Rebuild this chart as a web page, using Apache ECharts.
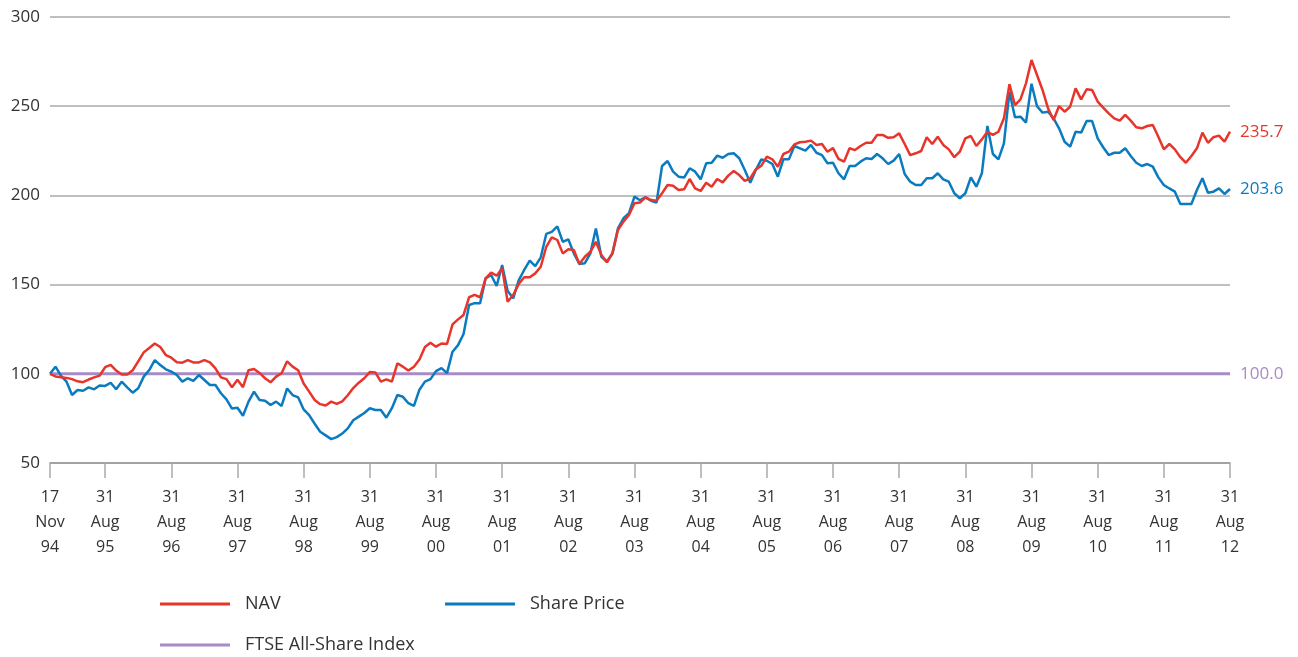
<!DOCTYPE html>
<html>
<head>
<meta charset="utf-8">
<script src="https://cdn.jsdelivr.net/npm/echarts@6/dist/echarts.min.js"></script>
<style>
  html, body { margin: 0; padding: 0; background: #fff; }
  #main { width: 1298px; height: 657px; }
</style>
</head>
<body>
<div id="main"></div>
<script>
// monthly points, 17 Nov 94 .. 31 Aug 12 (Aug points at index 10, 22, 34 ...)
var tickLabels = ['17\nNov\n94', '31\nAug\n95', '31\nAug\n96', '31\nAug\n97', '31\nAug\n98',
  '31\nAug\n99', '31\nAug\n00', '31\nAug\n01', '31\nAug\n02', '31\nAug\n03', '31\nAug\n04',
  '31\nAug\n05', '31\nAug\n06', '31\nAug\n07', '31\nAug\n08', '31\nAug\n09', '31\nAug\n10',
  '31\nAug\n11', '31\nAug\n12'];

var navValues = [
  100, 98.5, 98, 97.7, 97, 95.8, 95.3, 96.8, 98, 99,
  103.7, 105, 101.8, 99.6, 99.6, 102, 107, 112, 114.5, 117,
  115, 110.5, 109, 106.5, 106.2, 107.7, 106.4, 106.4, 107.7, 106.4,
  103, 98, 97, 92.5, 96.6, 92.5, 102, 102.7, 100.5, 97.5,
  95.2, 98.4, 100.3, 107, 104, 102, 94.6, 90, 85.3, 83,
  82.2, 84.4, 83.1, 84.5, 88, 92, 95, 97.5, 101, 100.8,
  95.6, 96.9, 95.6, 105.9, 104, 101.8, 104, 108, 115, 117.4,
  115.2, 117, 116.7, 127.7, 130.5, 133, 142.9, 144.2, 142.9, 153.5,
  156.7, 155, 159.1, 140.4, 144.2, 150.3, 154.1, 154.1, 156.3, 160,
  171.2, 176.5, 175, 167.5, 169.8, 169.4, 161.6, 165.6, 168.4, 174,
  166.6, 162.5, 167.5, 180.6, 185.3, 189, 195.6, 196, 198.9, 197.4,
  197, 201.2, 205.8, 205.4, 203, 203.4, 209.2, 204, 202.5, 207.1,
  204.9, 209.2, 207.3, 211.1, 213.7, 211.4, 208.1, 209.6, 214.6, 216.6,
  221.7, 220.2, 216.1, 223.2, 224.5, 228.6, 229.8, 230.1, 230.7, 228.3,
  228.8, 224.5, 226.5, 220.5, 218.9, 226.4, 225.4, 227.7, 229.5, 229.5,
  233.9, 233.9, 232.3, 232.6, 234.8, 228.8, 222.6, 223.6, 224.9, 232.6,
  228.8, 232.9, 228.3, 225.8, 221.4, 224.5, 232, 233.3, 227.7, 231.4,
  235.7, 233.9, 235.7, 243.2, 262.4, 250.6, 253.8, 262.8, 275.9, 267.5,
  259.1, 248.8, 242.3, 250.1, 246.9, 249.7, 260, 253.8, 259.5, 259.1,
  252.6, 249.2, 246, 243.2, 241.9, 245.1, 241.9, 238.2, 237.6, 238.9,
  239.5, 232.9, 225.8, 228.8, 225.8, 221.4, 218.3, 222.1, 226.4, 235.2,
  229.5, 232.6, 233.5, 230.1, 235.7
];

var shareValues = [
  100, 104, 98.8, 95.6, 88.1, 90.9, 90.5, 92.4, 91.3, 93.5,
  93.2, 95, 91.3, 95.6, 92.4, 89.4, 91.9, 98.4, 102.1, 107.7,
  104.9, 102.5, 101.2, 99.3, 95.6, 97.5, 96, 99.3, 96.5, 93.7,
  93.7, 89.1, 85.7, 80.5, 81, 76.5, 84.4, 90, 85.3, 84.9,
  82.5, 84.4, 82, 91.8, 88.1, 86.8, 80, 76.8, 72, 67.5,
  65.5, 63.4, 64.5, 66.5, 69.4, 74, 76, 78, 80.7, 79.7,
  79.7, 75.4, 80.7, 88.1, 87.1, 83.5, 82, 91.1, 95.6, 97,
  101.5, 103.2, 100.4, 112.4, 116.1, 122.3, 138.6, 139.6, 139.6, 153.5,
  155.4, 149.2, 161, 146.4, 142.3, 152.4, 158.2, 163.4, 160.4, 165.3,
  178.4, 179.6, 182.6, 174, 175.4, 167.5, 161.6, 162, 167.5, 181.5,
  165.6, 162.8, 167.5, 181.5, 187.2, 190, 199.3, 197.3, 198.9, 197,
  196, 216.5, 219.3, 213.3, 210.5, 210, 215.2, 213.3, 209, 218,
  218.3, 222.3, 221.1, 223.2, 223.6, 220.8, 214.2, 207.1, 214.2, 220.2,
  219.4, 217.6, 210.5, 220.2, 220.2, 227.7, 226.4, 225.1, 228.3, 223.9,
  222.6, 218, 218.3, 212.4, 209, 216.5, 216.5, 218.9, 220.8, 220.4,
  223.2, 220.8, 217.6, 219.5, 223.2, 212, 207.7, 205.8, 205.8, 209.6,
  209.6, 212.4, 209, 207.7, 201.2, 198.4, 201.2, 210.1, 204.9, 212.4,
  238.9, 223.2, 220.2, 229.2, 258.1, 243.8, 244.1, 240.8, 262.6, 250,
  246.4, 246.9, 243.2, 237.6, 230.1, 227.3, 235.7, 235.2, 241.7, 241.7,
  232, 227, 222.6, 223.9, 223.9, 226.4, 222.1, 218.3, 216.5, 217.6,
  216.1, 210.1, 205.8, 203.9, 202.1, 195.2, 195.2, 195.2, 203, 209.6,
  201.5, 202.1, 203.9, 200.8, 203.6
];

var ftseValues = [
  100, 100, 100, 100, 100, 100, 100, 100, 100, 100,
  100, 100, 100, 100, 100, 100, 100, 100, 100, 100,
  100, 100, 100, 100, 100, 100, 100, 100, 100, 100,
  100, 100, 100, 100, 100, 100, 100, 100, 100, 100,
  100, 100, 100, 100, 100, 100, 100, 100, 100, 100,
  100, 100, 100, 100, 100, 100, 100, 100, 100, 100,
  100, 100, 100, 100, 100, 100, 100, 100, 100, 100,
  100, 100, 100, 100, 100, 100, 100, 100, 100, 100,
  100, 100, 100, 100, 100, 100, 100, 100, 100, 100,
  100, 100, 100, 100, 100, 100, 100, 100, 100, 100,
  100, 100, 100, 100, 100, 100, 100, 100, 100, 100,
  100, 100, 100, 100, 100, 100, 100, 100, 100, 100,
  100, 100, 100, 100, 100, 100, 100, 100, 100, 100,
  100, 100, 100, 100, 100, 100, 100, 100, 100, 100,
  100, 100, 100, 100, 100, 100, 100, 100, 100, 100,
  100, 100, 100, 100, 100, 100, 100, 100, 100, 100,
  100, 100, 100, 100, 100, 100, 100, 100, 100, 100,
  100, 100, 100, 100, 100, 100, 100, 100, 100, 100,
  100, 100, 100, 100, 100, 100, 100, 100, 100, 100,
  100, 100, 100, 100, 100, 100, 100, 100, 100, 100,
  100, 100, 100, 100, 100, 100, 100, 100, 100, 100,
  100, 100, 100, 100, 100
];

// category names: only the labelled months get text
var categories = navValues.map(function (v, i) {
  if (i === 0) return tickLabels[0];
  if ((i - 10) % 12 === 0) return tickLabels[(i - 10) / 12 + 1];
  return '';
});
function isTick(i) { return categories[i] !== ''; }

var font = '"Open Sans", "Noto Sans", sans-serif';
var red = '#e8352b', blue = '#0b7bc0', purple = '#a88bc6';

var myChart = echarts.init(document.getElementById('main'));
myChart.setOption({
  animation: false,
  backgroundColor: '#fff',
  textStyle: { fontFamily: font },
  grid: { left: 50, right: 68, top: 17, bottom: 194, containLabel: false },
  legend: [
    { data: ['NAV'], left: 155, top: 590 },
    { data: ['Share Price'], left: 440, top: 590 },
    { data: ['FTSE All-Share Index'], left: 155, top: 631 }
  ].map(function (l) {
    l.icon = 'rect';
    l.itemWidth = 70;
    l.itemHeight = 3;
    l.textStyle = { fontSize: 18, color: '#333', fontFamily: font, padding: [0, 0, 0, 10] };
    return l;
  }),
  xAxis: {
    type: 'category',
    boundaryGap: false,
    data: categories,
    axisLine: { lineStyle: { color: '#999', width: 1.5 } },
    axisTick: { show: true, length: 15, interval: isTick, lineStyle: { color: '#aaa', width: 1.5 } },
    axisLabel: { interval: isTick, fontSize: 16, lineHeight: 25, color: '#333', margin: 22 },
    splitLine: { show: false }
  },
  yAxis: {
    type: 'value',
    min: 50,
    max: 300,
    interval: 50,
    axisLine: { show: false },
    axisTick: { show: false },
    axisLabel: { fontSize: 17, color: '#333', margin: 10 },
    splitLine: { lineStyle: { color: '#aaa', width: 1.5 } }
  },
  series: [
    {
      name: 'FTSE All-Share Index', type: 'line', data: ftseValues, showSymbol: false,
      color: purple, lineStyle: { width: 3, color: purple },
      endLabel: { show: true, formatter: function (p) { return p.value.toFixed(1); },
        color: purple, fontSize: 17, distance: 10 }
    },
    {
      name: 'Share Price', type: 'line', data: shareValues, showSymbol: false,
      color: blue, lineStyle: { width: 2.5, color: blue },
      endLabel: { show: true, formatter: function (p) { return p.value.toFixed(1); },
        color: blue, fontSize: 17, distance: 10 }
    },
    {
      name: 'NAV', type: 'line', data: navValues, showSymbol: false,
      color: red, lineStyle: { width: 2.5, color: red },
      endLabel: { show: true, formatter: function (p) { return p.value.toFixed(1); },
        color: red, fontSize: 17, distance: 10 }
    }
  ]
});
</script>
</body>
</html>
